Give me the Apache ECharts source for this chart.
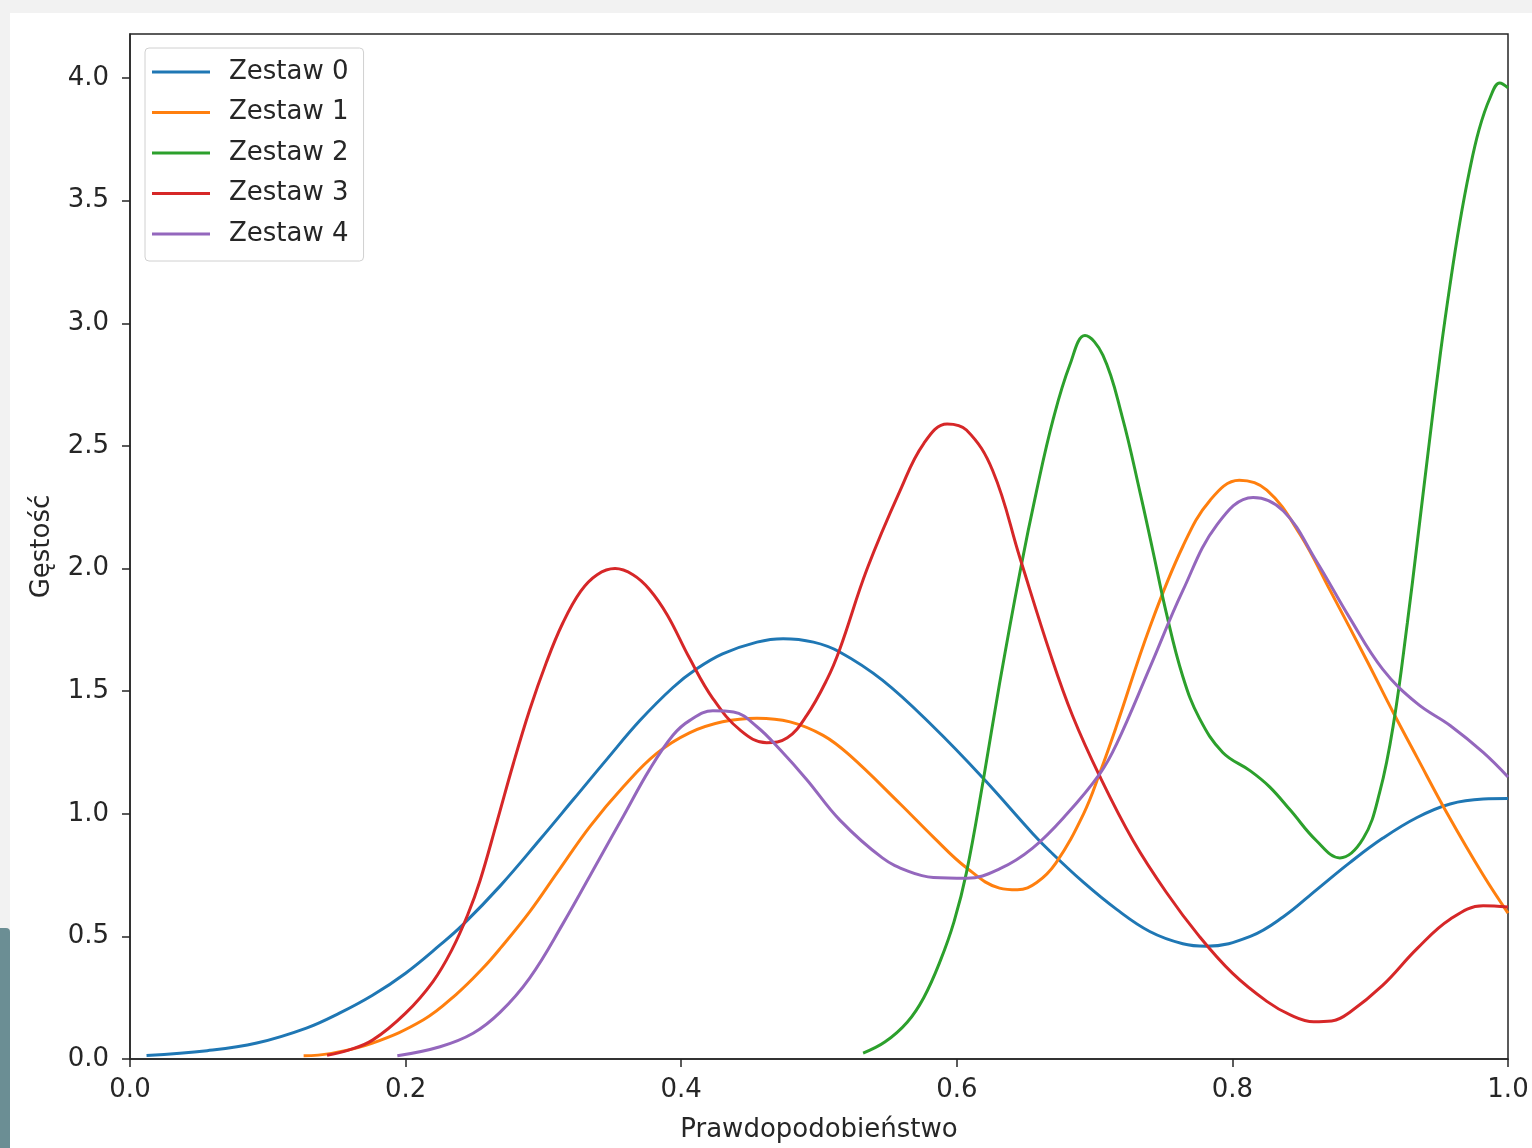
<!DOCTYPE html>
<html>
<head>
<meta charset="utf-8">
<script src="https://cdn.jsdelivr.net/npm/echarts@6/dist/echarts.min.js"></script>
<style>
  html, body { margin: 0; padding: 0; width: 1532px; height: 1148px; overflow: hidden; background: #f2f2f2; }
  #paper { position: absolute; left: 10px; top: 13px; width: 1522px; height: 1135px; background: #ffffff; }
  #strip { position: absolute; left: 0; top: 928px; width: 10px; height: 220px; background: #6b8e94; border-top-right-radius: 4px; }
  #chart { position: absolute; left: 0; top: 0; width: 1532px; height: 1148px; }
</style>
</head>
<body>
<div id="paper"></div>
<div id="strip"></div>
<div id="chart"></div>
<script>
// ---- data ----
const seriesNames = ['Zestaw 0', 'Zestaw 1', 'Zestaw 2', 'Zestaw 3', 'Zestaw 4'];
const seriesColors = ['#1f77b4', '#ff7f0e', '#2ca02c', '#d62728', '#9467bd'];
const xTicks = [0, 0.2, 0.4, 0.6, 0.8, 1.0];
const yTicks = [0, 0.5, 1.0, 1.5, 2.0, 2.5, 3.0, 3.5, 4.0];

const zestaw0 = [[0.012,0.014],[0.056,0.034],[0.092,0.065],[0.128,0.126],[0.152,0.187],[0.176,0.26],[0.2,0.35],[0.225,0.465],[0.242,0.55],[0.2685,0.705],[0.2975,0.895],[0.322,1.06],[0.346,1.222],[0.37,1.38],[0.394,1.515],[0.411,1.59],[0.43,1.652],[0.455,1.70],[0.474,1.714],[0.496,1.70],[0.515,1.66],[0.546,1.545],[0.583,1.355],[0.619,1.146],[0.655,0.92],[0.668,0.845],[0.692,0.72],[0.716,0.61],[0.74,0.52],[0.764,0.47],[0.781,0.46],[0.813,0.50],[0.837,0.58],[0.861,0.69],[0.885,0.80],[0.909,0.90],[0.934,0.985],[0.958,1.04],[0.982,1.06],[1.0,1.062]];
const zestaw1 = [[0.126,0.013],[0.145,0.022],[0.176,0.065],[0.213,0.16],[0.237,0.265],[0.256,0.37],[0.2685,0.45],[0.29,0.60],[0.31,0.76],[0.334,0.95],[0.358,1.11],[0.382,1.245],[0.406,1.33],[0.43,1.375],[0.455,1.39],[0.479,1.375],[0.503,1.32],[0.522,1.24],[0.559,1.04],[0.583,0.905],[0.607,0.78],[0.631,0.697],[0.644,0.69],[0.658,0.72],[0.672,0.80],[0.692,1.00],[0.704,1.17],[0.716,1.36],[0.74,1.76],[0.764,2.09],[0.784,2.28],[0.805,2.36],[0.825,2.32],[0.849,2.14],[0.871,1.91],[0.898,1.62],[0.917,1.41],[0.934,1.23],[0.956,1.00],[0.982,0.75],[1.0,0.595]];
const zestaw2 = [[0.532,0.024],[0.548,0.07],[0.564,0.15],[0.576,0.25],[0.588,0.40],[0.598,0.56],[0.607,0.76],[0.619,1.13],[0.631,1.53],[0.646,1.99],[0.658,2.32],[0.670,2.61],[0.682,2.83],[0.693,2.95],[0.706,2.87],[0.72,2.62],[0.733,2.31],[0.742,2.08],[0.752,1.82],[0.764,1.56],[0.776,1.39],[0.793,1.25],[0.813,1.175],[0.827,1.11],[0.842,1.015],[0.861,0.89],[0.878,0.82],[0.895,0.90],[0.907,1.09],[0.917,1.37],[0.927,1.78],[0.934,2.10],[0.943,2.52],[0.951,2.88],[0.958,3.16],[0.965,3.41],[0.972,3.62],[0.979,3.79],[0.987,3.92],[0.994,3.98],[1.0,3.96]];
const zestaw3 = [[0.143,0.015],[0.158,0.035],[0.176,0.077],[0.20,0.187],[0.22,0.317],[0.234,0.45],[0.245,0.587],[0.254,0.727],[0.266,0.961],[0.278,1.201],[0.29,1.423],[0.302,1.615],[0.314,1.777],[0.327,1.907],[0.339,1.975],[0.352,2.00],[0.365,1.975],[0.377,1.915],[0.39,1.81],[0.406,1.635],[0.423,1.47],[0.443,1.34],[0.462,1.29],[0.477,1.31],[0.491,1.40],[0.506,1.55],[0.515,1.67],[0.535,2.00],[0.559,2.32],[0.576,2.51],[0.593,2.59],[0.607,2.565],[0.626,2.40],[0.646,2.04],[0.668,1.65],[0.684,1.40],[0.704,1.15],[0.728,0.89],[0.752,0.68],[0.776,0.50],[0.80,0.35],[0.825,0.235],[0.842,0.18],[0.859,0.152],[0.872,0.155],[0.885,0.19],[0.909,0.30],[0.934,0.45],[0.958,0.57],[0.982,0.625],[1.0,0.62]];
const zestaw4 = [[0.194,0.013],[0.225,0.05],[0.249,0.105],[0.2685,0.19],[0.29,0.33],[0.314,0.55],[0.341,0.82],[0.358,0.99],[0.377,1.18],[0.394,1.32],[0.406,1.38],[0.423,1.42],[0.438,1.415],[0.455,1.355],[0.472,1.26],[0.491,1.14],[0.515,0.975],[0.546,0.82],[0.565,0.765],[0.583,0.74],[0.607,0.737],[0.631,0.775],[0.655,0.86],[0.68,1.00],[0.704,1.165],[0.716,1.285],[0.74,1.595],[0.764,1.91],[0.789,2.18],[0.815,2.29],[0.837,2.235],[0.861,2.03],[0.885,1.80],[0.909,1.59],[0.934,1.45],[0.958,1.36],[0.982,1.25],[1.0,1.15]];

const allSeries = [zestaw0, zestaw1, zestaw2, zestaw3, zestaw4];

const font = 'DejaVu Sans';
const ink = '#262626';

const chart = echarts.init(document.getElementById('chart'), null, { renderer: 'canvas' });
chart.setOption({
  backgroundColor: 'transparent',
  animation: false,
  textStyle: { fontFamily: font, color: ink },
  grid: {
    left: 130, top: 34, right: 24, bottom: 89,
    show: true, borderColor: ink, borderWidth: 1.5, backgroundColor: 'transparent'
  },
  legend: {
    orient: 'vertical',
    left: 145, top: 48,
    padding: [9, 15, 12, 7],
    itemGap: 10.5,
    itemWidth: 58, itemHeight: 3,
    icon: 'rect',
    backgroundColor: 'rgba(255,255,255,0.85)',
    borderColor: '#d0d0d0', borderWidth: 1, borderRadius: 4,
    textStyle: { fontFamily: font, fontSize: 26, color: ink, lineHeight: 30, padding: [0, 0, 0, 14] },
    data: seriesNames
  },
  xAxis: {
    type: 'value', min: 0, max: 1, interval: 0.2,
    name: 'Prawdopodobieństwo', nameLocation: 'middle', nameGap: 58,
    nameTextStyle: { fontFamily: font, fontSize: 26, color: ink },
    splitLine: { show: false },
    axisLine: { show: true, onZero: false, lineStyle: { color: ink, width: 1.5 } },
    axisTick: { show: true, inside: false, length: 8, lineStyle: { color: ink, width: 1.5 }, customValues: xTicks },
    axisLabel: { fontFamily: font, fontSize: 26, color: ink, margin: 18, customValues: xTicks, formatter: v => v.toFixed(1) }
  },
  yAxis: {
    type: 'value', min: 0, max: 4.18, interval: 0.5,
    name: 'Gęstość', nameLocation: 'middle', nameGap: 75, nameRotate: 90,
    nameTextStyle: { fontFamily: font, fontSize: 26, color: ink },
    splitLine: { show: false },
    axisLine: { show: true, onZero: false, lineStyle: { color: ink, width: 1.5 } },
    axisTick: { show: true, inside: false, length: 8, lineStyle: { color: ink, width: 1.5 }, customValues: yTicks },
    axisLabel: { fontFamily: font, fontSize: 26, color: ink, margin: 21, customValues: yTicks, formatter: v => v.toFixed(1) }
  },
  series: allSeries.map((d, i) => ({
    name: seriesNames[i],
    type: 'line',
    data: d,
    smooth: 0.4,
    showSymbol: false,
    symbol: 'none',
    clip: true,
    color: seriesColors[i],
    lineStyle: { color: seriesColors[i], width: 3 },
    z: 2 + i
  }))
});
</script>
</body>
</html>
